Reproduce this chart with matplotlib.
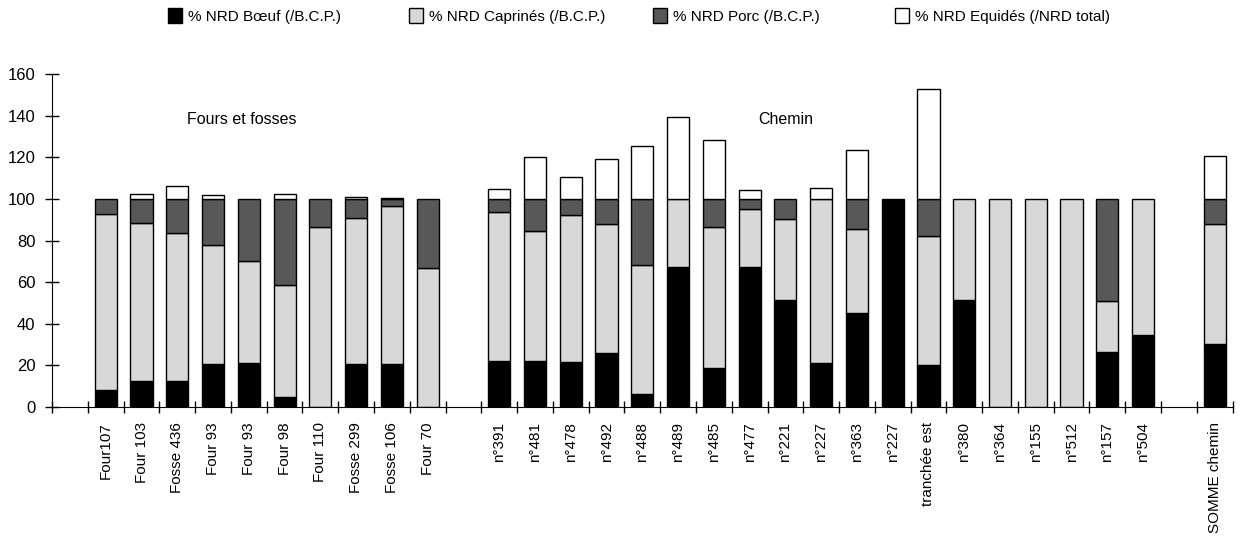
"""Stacked bars of NRD percentages per context (fours/fosses and chemin)."""

import numpy as np
import matplotlib
matplotlib.use("Agg")
import matplotlib.pyplot as plt

plt.rcParams["font.family"] = ["Liberation Sans", "DejaVu Sans"]

# "" marks an empty slot on the axis
labels = ["", "Four107", "Four 103", "Fosse 436", "Four 93", "Four 93", "Four 98",
          "Four 110", "Fosse 299", "Fosse 106", "Four 70", "",
          "n°391", "n°481", "n°478", "n°492", "n°488", "n°489", "n°485", "n°477",
          "n°221", "n°227", "n°363", "n°227", "tranchée est", "n°380", "n°364",
          "n°155", "n°512", "n°157", "n°504", "", "SOMME chemin"]

boeuf = [0, 8, 12.5, 12.5, 20.5, 21, 5, 0, 20.5, 20.5, 0, 0,
         22, 22, 21.8, 26, 6.4, 67.5, 19, 67.5, 51.5, 21.3, 45.2, 100, 20,
         51.5, 0, 0, 0, 26.5, 34.5, 0, 30.5]
caprines = [0, 85, 76, 71, 57.5, 49, 53.5, 86.4, 70.5, 76, 67, 0,
            71.5, 62.8, 70.7, 62.2, 62.1, 32.5, 67.4, 27.7, 38.9, 78.7, 40.4, 0, 62.4,
            48.5, 100, 100, 100, 24.5, 65.5, 0, 57.5]
porc = [0, 7, 11.5, 16.5, 22, 30, 41.5, 13.6, 9, 3.5, 33, 0,
        6.5, 15.2, 7.5, 11.8, 31.5, 0, 13.6, 4.8, 9.6, 0, 14.4, 0, 17.6,
        0, 0, 0, 0, 49, 0, 0, 12]
equides = [0, 0, 2.5, 6, 2, 0, 2.5, 0, 1, 0.5, 0, 0,
           5, 20, 10.5, 19, 25.5, 39.5, 28.3, 4.5, 0, 5.5, 23.6, 0, 52.7,
           0, 0, 0, 0, 0, 0, 0, 20.6]

series = [
    ("% NRD Bœuf (/B.C.P.)", boeuf, "#000000"),
    ("% NRD Caprinés (/B.C.P.)", caprines, "#d8d8d8"),
    ("% NRD Porc (/B.C.P.)", porc, "#585858"),
    ("% NRD Equidés (/NRD total)", equides, "#ffffff"),
]
legend_left = [168, 409, 653, 895]  # pixel x of each legend square

x = np.arange(len(labels))
fig = plt.figure(figsize=(12.4, 5.37), dpi=100)
ax = fig.add_axes([0.042, 0.242, 0.952, 0.62])

bottom = np.zeros(len(labels))
handles = []
for name, vals, color in series:
    vals = np.array(vals, dtype=float)
    keep = vals > 0
    h = ax.bar(x[keep], vals[keep], 0.62, bottom=bottom[keep], color=color,
               edgecolor="black", linewidth=1.0, label=name)
    handles.append(h)
    bottom += vals

ax.set_xlim(-0.5, len(labels) - 0.5)
ax.set_ylim(0, 160)
ax.set_yticks(np.arange(0, 161, 20))
ax.set_xticks(x)
ax.set_xticklabels(labels, rotation=90, fontsize=11)
ax.set_xticks(np.arange(-0.5, len(labels)), minor=True)
ax.tick_params(axis="x", which="major", length=0, pad=11)
ax.tick_params(axis="x", which="minor", direction="inout", length=9, width=1)
ax.tick_params(axis="y", direction="inout", length=10, width=1, labelsize=12, pad=7)
for side in ["top", "right"]:
    ax.spines[side].set_visible(False)

ax.text(4.8, 138, "Fours et fosses", ha="center", va="center", fontsize=11.5)
ax.text(20.0, 138, "Chemin", ha="center", va="center", fontsize=11.5)

for h, left in zip(handles, legend_left):
    fig.legend(handles=[h], loc="upper left", bbox_to_anchor=(left / 1240, 0.985),
               frameon=False, fontsize=11, handlelength=0.9, handleheight=1.1,
               handletextpad=0.4, borderpad=0, borderaxespad=0)

fig.savefig("out.png", dpi=100)
